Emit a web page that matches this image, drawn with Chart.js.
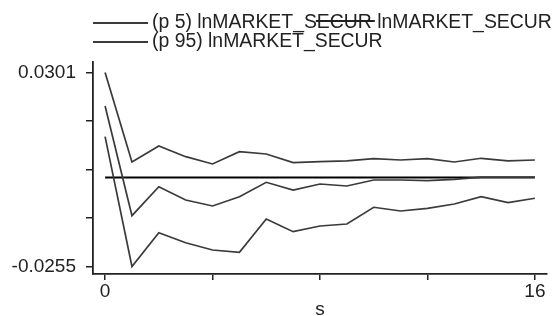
<!DOCTYPE html>
<html>
<head>
<meta charset="utf-8">
<script src="https://cdn.jsdelivr.net/npm/chart.js@4/dist/chart.umd.min.js"></script>
<style>
  html, body { margin: 0; padding: 0; background: #fff; }
  canvas { display: block; }
</style>
</head>
<body>
<canvas id="irfChart" width="557" height="316"></canvas>
<script>
// step (s) and the three irf lines
const steps = [0, 1, 2, 3, 4, 5, 6, 7, 8, 9, 10, 11, 12, 13, 14, 15, 16];
const upper = [0.0301, 0.00445, 0.00903, 0.00597, 0.00388, 0.0074, 0.00674, 0.00425, 0.00454, 0.00474, 0.0054, 0.00502, 0.0054, 0.00445, 0.00551, 0.00474, 0.00502];
const middle = [0.0205, -0.01094, -0.00263, -0.00644, -0.00816, -0.0055, -0.00137, -0.00358, -0.00186, -0.00243, -0.00071, -0.00071, -0.00091, -0.00051, 0.0001, 0.0001, 0.0001];
const lower = [0.0117, -0.0255, -0.01581, -0.01868, -0.02077, -0.02143, -0.01189, -0.01553, -0.01389, -0.01332, -0.00853, -0.00959, -0.00882, -0.00759, -0.0055, -0.00721, -0.00595];
const zeroLine = [0, 0, 0, 0, 0, 0, 0, 0, 0, 0, 0, 0, 0, 0, 0, 0, 0];

const yTicks = [-0.0255, -0.0116, 0.0023, 0.0162, 0.0301];
const xTicks = [0, 4, 8, 12, 16];
const legendLabels = ['(p 5) lnMARKET_SECUR lnMARKET_SECUR', '(p 95) lnMARKET_SECUR'];

const FONT = 'Liberation Sans, Arial, sans-serif';
const lineColor = '#3a3a3a';

function pts(vals) {
  return steps.map((s, i) => ({ x: s, y: vals[i] }));
}

// legend drawn above the plot: short line + text, two rows
const legendPlugin = {
  id: 'legendLines',
  afterDraw(chart) {
    const ctx = chart.ctx;
    ctx.save();
    ctx.font = '19.4px ' + FONT;
    ctx.textBaseline = 'middle';
    ctx.fillStyle = '#222';
    const rows = [23, 42];
    legendLabels.forEach((txt, i) => {
      ctx.strokeStyle = lineColor;
      ctx.lineWidth = 1.8;
      ctx.beginPath();
      ctx.moveTo(93, rows[i]);
      ctx.lineTo(148, rows[i]);
      ctx.stroke();
      ctx.fillText(txt, 152, rows[i]);
    });
    // overstruck "SECUR" in the first row
    const x1 = 152 + ctx.measureText('(p 5) lnMARKET_S').width - 1;
    const x2 = 152 + ctx.measureText('(p 5) lnMARKET_SECUR').width + 3;
    ctx.strokeStyle = '#222';
    ctx.lineWidth = 2;
    ctx.beginPath();
    ctx.moveTo(x1, 21);
    ctx.lineTo(x2, 21);
    ctx.stroke();
    ctx.restore();
  }
};

const ctx = document.getElementById('irfChart').getContext('2d');
new Chart(ctx, {
  type: 'line',
  data: {
    datasets: [
      { data: pts(upper), borderColor: lineColor, borderWidth: 1.7 },
      { data: pts(middle), borderColor: lineColor, borderWidth: 1.7 },
      { data: pts(lower), borderColor: lineColor, borderWidth: 1.7 },
      { data: pts(zeroLine), borderColor: '#000', borderWidth: 2 }
    ]
  },
  options: {
    responsive: false,
    animation: false,
    devicePixelRatio: 1,
    layout: { padding: { left: 0, right: 10, top: 62, bottom: 0 } },
    elements: { point: { radius: 0 }, line: { tension: 0 } },
    plugins: { legend: { display: false }, tooltip: { enabled: false } },
    scales: {
      x: {
        type: 'linear',
        min: -0.45,
        max: 16.45,
        afterBuildTicks: s => { s.ticks = xTicks.map(v => ({ value: v })); },
        afterFit: s => { s.height = 42; },
        grid: { drawOnChartArea: false, drawTicks: true, tickLength: 6, color: '#222', lineWidth: 1.5 },
        border: { display: true, color: '#222', width: 1.8 },
        ticks: {
          padding: 0,
          maxRotation: 0,
          color: '#222',
          font: { family: FONT, size: 19 },
          callback: v => (v === 0 || v === 16) ? String(v) : ''
        },
        title: {
          display: true,
          text: 's',
          color: '#222',
          font: { family: FONT, size: 19 },
          padding: { top: 0, bottom: -5 }
        }
      },
      y: {
        min: -0.02765,
        max: 0.0331,
        afterBuildTicks: s => { s.ticks = yTicks.map(v => ({ value: v })); },
        afterFit: s => { s.width = 93; },
        grid: { drawOnChartArea: false, drawTicks: true, tickLength: 7, color: '#222', lineWidth: 1.5 },
        border: { display: true, color: '#222', width: 1.8 },
        ticks: {
          padding: 10,
          color: '#222',
          font: { family: FONT, size: 19 },
          callback: v => (v === yTicks[0] || v === yTicks[yTicks.length - 1]) ? v.toFixed(4) : ''
        }
      }
    }
  },
  plugins: [legendPlugin]
});
</script>
</body>
</html>
